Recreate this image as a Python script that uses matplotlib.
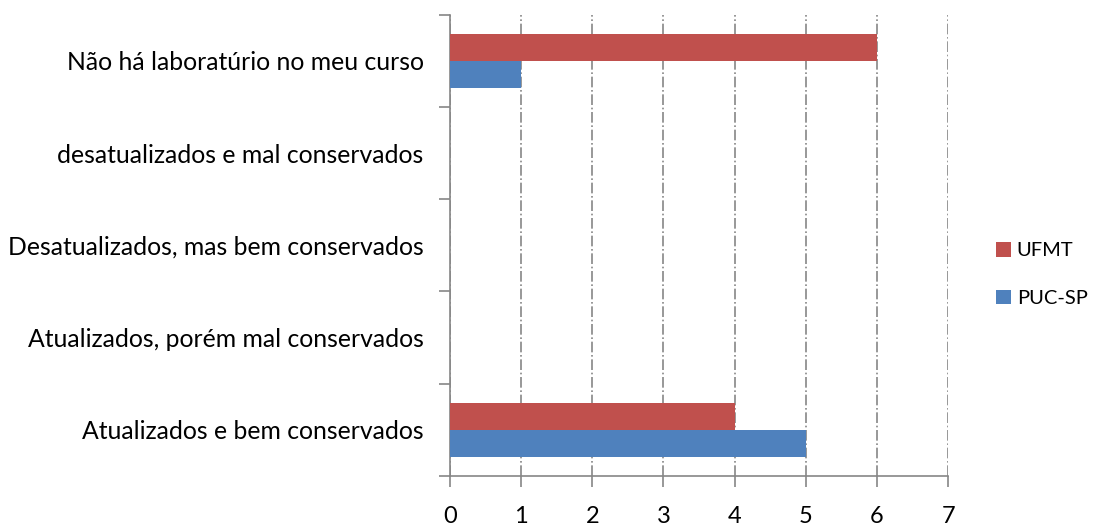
import numpy as np
import matplotlib.pyplot as plt

plt.rcParams['font.family'] = ['Lato', 'DejaVu Sans']

categorias = ['Atualizados e bem conservados',
              'Atualizados, porém mal conservados',
              'Desatualizados, mas bem conservados',
              'desatualizados e mal conservados',
              'Não há laboratúrio no meu curso']
puc_sp = [5, 0, 0, 0, 1]
ufmt = [4, 0, 0, 0, 6]

fig = plt.figure(figsize=(11, 5.27), dpi=100)
ax = fig.add_axes([0.409, 0.097, 0.453, 0.875])

y = np.arange(len(categorias))
h = 0.29
ax.barh(y - h/2, puc_sp, height=h, color='#4f81bd', label='PUC-SP', zorder=3)
ax.barh(y + h/2, ufmt, height=h, color='#c0504d', label='UFMT', zorder=3)

ax.set_xlim(0, 7)
ax.set_ylim(-0.5, 4.5)
ax.set_xticks(range(8))
ax.set_yticks(y)
ax.set_yticklabels(categorias)
ax.set_yticks(np.arange(-0.5, 5, 1), minor=True)
ax.tick_params(axis='y', which='major', length=0, pad=19, labelsize=17.8)
ax.tick_params(axis='y', which='minor', length=8, color='#868686', width=1.2)
ax.tick_params(axis='x', length=8, color='#868686', width=1.2, pad=14, labelsize=17)

ax.grid(axis='x', color='#868686', linestyle='-.', linewidth=1.2, zorder=0)
for s in ['top', 'right']:
    ax.spines[s].set_visible(False)
for s in ['left', 'bottom']:
    ax.spines[s].set_color('#868686')
    ax.spines[s].set_linewidth(1.2)

handles, labels = ax.get_legend_handles_labels()
fig.legend(handles[::-1], labels[::-1], loc='center left', bbox_to_anchor=(0.905, 0.479),
           frameon=False, fontsize=14.5, handlelength=0.75, handleheight=0.75,
           handletextpad=0.3, labelspacing=1.5, borderpad=0, borderaxespad=0)

fig.savefig('out.png', dpi=100)
